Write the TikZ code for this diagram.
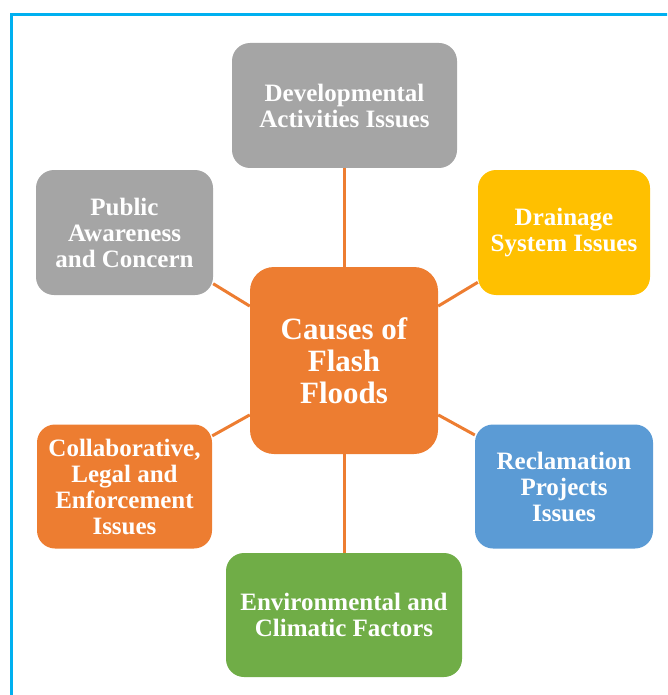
\documentclass[tikz,border=0pt]{standalone}
\usepackage{fontspec}
\setmainfont{Liberation Serif}
\definecolor{boxgray}{HTML}{A5A5A5}
\definecolor{boxyellow}{HTML}{FFC000}
\definecolor{boxorange}{HTML}{ED7D31}
\definecolor{boxblue}{HTML}{5B9BD5}
\definecolor{boxgreen}{HTML}{70AD47}
\definecolor{framecyan}{HTML}{00B0F0}
\begin{document}
\begin{tikzpicture}[x=1pt, y=-1pt,
    box/.style={rounded corners=18pt, text=white, align=center, inner sep=0pt,
        minimum width=176, minimum height=125, font=\bfseries\fontsize{25}{26}\selectfont},
    link/.style={draw=boxorange, line width=3pt}]
    \useasboundingbox (0, 0) rectangle (667, 695);
    \clip (0, 0) rectangle (667, 695);
    \draw[framecyan, line width=3pt] (11, 15) rectangle (720, 740);
    \node[box, fill=boxorange, rounded corners=24pt, minimum width=188, minimum height=187,
        font=\bfseries\fontsize{31}{32}\selectfont] (cause) at (344, 360.5) {Causes of\\Flash\\Floods};
    \node[box, fill=boxgray, minimum width=225] (dev) at (344.5, 105.5) {Developmental\\Activities Issues};
    \node[box, fill=boxgray, minimum width=177] (pub) at (124.5, 232.5) {Public\\Awareness\\and Concern};
    \node[box, fill=boxyellow, minimum width=172] (drain) at (564, 232.5) {Drainage\\System Issues};
    \node[box, fill=boxorange, minimum width=175, minimum height=124] (collab) at (124.5, 486.5) {Collaborative,\\Legal and\\Enforcement\\Issues};
    \node[box, fill=boxblue, minimum width=178, minimum height=124] (recl) at (564, 486.5) {Reclamation\\Projects\\Issues};
    \node[box, fill=boxgreen, minimum width=236, minimum height=124] (env) at (344, 615) {Environmental and\\Climatic Factors};
    \draw[link] (cause.north) -- (cause.north |- dev.south);
    \draw[link] (cause.south) -- (cause.south |- env.north);
    \draw[link] (pub.-30) -- (cause.150);
    \draw[link] (drain.210) -- (cause.30);
    \draw[link] (collab.30) -- (cause.210);
    \draw[link] (recl.150) -- (cause.-30);
\end{tikzpicture}
\end{document}
